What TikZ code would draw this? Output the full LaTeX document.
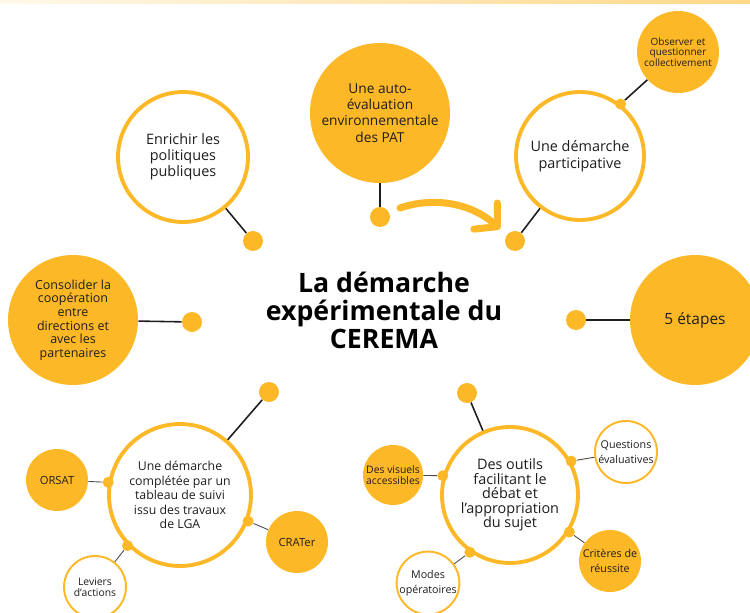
\documentclass[tikz,border=0pt]{standalone}
\usepackage{fontspec}
\setmainfont{Open Sans}
\usetikzlibrary{arrows.meta}
\definecolor{amber}{HTML}{FDB827}
\definecolor{ink}{HTML}{1E1E1E}
\newcommand{\apos}{{\char"27}}

\begin{document}
\begin{tikzpicture}[
    x=0.02cm, y=-0.02cm,
    ring/.style={circle, draw=amber, line width=2.2pt, fill=white, align=center, text=ink, inner sep=0pt},
    thinring/.style={circle, draw=amber, line width=1.1pt, fill=white, align=center, text=ink, inner sep=0pt},
    disc/.style={circle, fill=amber, align=center, text=ink, inner sep=0pt},
    bigtxt/.style={font=\fontsize{8.2}{9.2}\selectfont},
    smalltxt/.style={font=\fontsize{6.1}{8.4}\selectfont},
    tinytxt/.style={font=\fontsize{5.9}{6.2}\selectfont},
    dot/.style={circle, fill=amber, minimum size=0.4cm, inner sep=0pt},
    knot/.style={circle, fill=amber, minimum size=0.22cm, inner sep=0pt},
    link/.style={draw=ink, line width=0.9pt},
    sublink/.style={draw=ink!80, line width=0.5pt},
    swoosh/.style={draw=amber, line width=4pt, line cap=round, -{Straight Barb[length=9pt, width=20pt, round]}}
]

    % canvas, same size as the reference
    \useasboundingbox (0,0) rectangle (750,612);
    \shade[left color=amber!10, right color=amber!55] (0,0) rectangle (750,3);

    % --- Title ---
    \node[align=center, text=black, font=\fontsize{15.2}{15.9}\selectfont\bfseries] (title) at (384,310)
        {La démarche\\expérimentale du\\CEREMA};

    % --- Top row ---
    \node[ring, bigtxt, minimum size=2.6cm] (enrich) at (183,157) {Enrichir les\\politiques\\publiques};
    \node[dot] (enrichdot) at (253,241) {};
    \draw[link] (enrich) -- (enrichdot);

    \node[disc, font=\fontsize{7.8}{9.2}\selectfont, minimum size=2.8cm] (auto) at (380,113) {Une auto-\\évaluation\\environnementale\\des PAT};
    \node[dot] (autodot) at (380,217) {};
    \draw[link] (auto) -- (autodot);

    \node[ring, font=\fontsize{8.2}{9.4}\selectfont, minimum size=2.56cm] (particip) at (580,156) {Une démarche\\participative};
    \node[dot] (participdot) at (515,241) {};
    \draw[link] (particip) -- (participdot);

    \node[disc, font=\fontsize{5.7}{6}\selectfont, minimum size=1.64cm] (observe) at (678,52) {Observer et\\questionner\\collectivement};
    \node[knot] (observedot) at (particip.52) {};
    \draw[link] (observe) -- (observedot);

    % curved arrow between the two top dots
    \coordinate (swooshstart) at (400,208);
    \coordinate (swooshend) at (500,229);
    \draw[swoosh] (swooshstart) .. controls (432,197) and (470,202) .. (swooshend);

    % --- Middle row ---
    \node[disc, font=\fontsize{7.1}{7.7}\selectfont, minimum size=2.6cm] (consol) at (73,320)
        {Consolider la\\coopération\\entre\\directions et\\avec les\\partenaires};
    \node[dot] (consoldot) at (192,322) {};
    \draw[link] (consol) -- (consoldot);

    \node[disc, font=\fontsize{8.8}{9.4}\selectfont, minimum size=2.6cm] (steps) at (695,320) {5 étapes};
    \node[dot] (stepsdot) at (576,320) {};
    \draw[link] (stepsdot) -- (steps);

    % --- Bottom left ---
    \node[ring, font=\fontsize{7}{8.3}\selectfont, minimum size=2.84cm] (complete) at (180,495)
        {Une démarche\\complétée par un\\tableau de suivi\\issu des travaux\\de LGA};
    \node[dot] (completedot) at (269,392) {};
    \draw[link] (complete) -- (completedot);

    \node[disc, font=\fontsize{6.4}{7}\selectfont, minimum size=1.24cm] (orsat) at (57,480) {ORSAT};
    \node[knot] (orsatdot) at (complete.170) {};
    \draw[sublink] (orsat) -- (orsatdot);

    \node[disc, font=\fontsize{6.4}{7}\selectfont, minimum size=1.24cm] (crater) at (297,542) {CRATer};
    \node[knot] (craterdot) at (complete.-21) {};
    \draw[sublink] (crater) -- (craterdot);

    \node[thinring, tinytxt, minimum size=1.24cm] (leviers) at (95,587) {Leviers\\d\apos actions};
    \node[knot] (leviersdot) at (complete.-136) {};
    \draw[sublink] (leviers) -- (leviersdot);

    % --- Bottom right ---
    \node[ring, font=\fontsize{8.2}{8.3}\selectfont, minimum size=2.72cm] (tools) at (510,495)
        {Des outils\\facilitant le\\débat et\\l\apos appropriation\\du sujet};
    \node[dot] (toolsdot) at (467,393) {};
    \draw[link] (tools) -- (toolsdot);

    \node[disc, tinytxt, minimum size=1.2cm] (visuels) at (393,475) {Des visuels\\accessibles};
    \node[knot] (visuelsdot) at (tools.164) {};
    \draw[sublink] (visuels) -- (visuelsdot);

    \node[thinring, smalltxt, minimum size=1.24cm] (questions) at (626,452) {Questions\\évaluatives};
    \node[knot] (questionsdot) at (tools.29) {};
    \draw[sublink] (questions) -- (questionsdot);

    \node[disc, smalltxt, minimum size=1.24cm] (criteres) at (610,561) {Critères de\\réussite};
    \node[knot] (criteresdot) at (tools.-32) {};
    \draw[sublink] (criteres) -- (criteresdot);

    \node[thinring, smalltxt, minimum size=1.24cm] (modes) at (428,583) {Modes\\opératoires};
    \node[knot] (modesdot) at (tools.-125) {};
    \draw[sublink] (modes) -- (modesdot);

\end{tikzpicture}
\end{document}
